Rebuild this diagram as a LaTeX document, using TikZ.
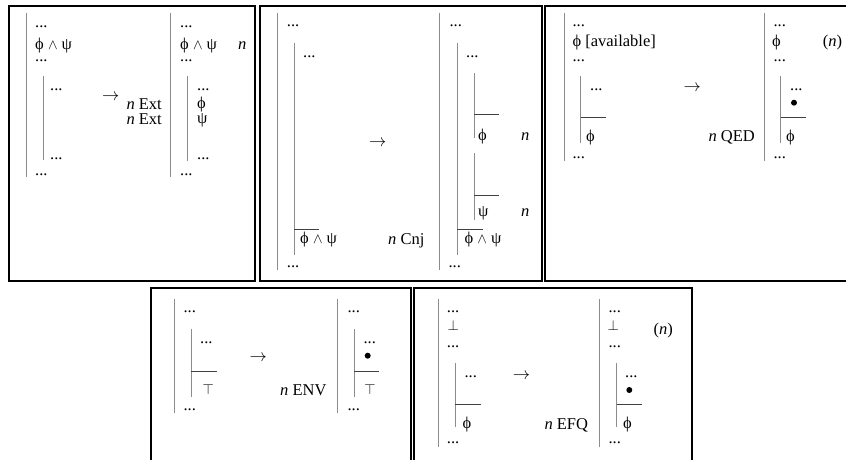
\documentclass[tikz,border=0pt]{standalone}
\usepackage{fontspec}
\setmainfont{Liberation Serif}
\newcommand{\mywedge}{{\fontsize{15}{17}\selectfont$\wedge$}}
\newcommand{\myarr}{$\rightarrow$}
\begin{document}
\begin{tikzpicture}[x=1pt,y=-1pt,
  frame/.style={draw=black,line width=2pt},
  vl/.style={draw=gray!90,line width=1pt},
  hl/.style={draw=black!75,line width=1pt},
  t/.style={anchor=base west,inner sep=0pt,font=\fontsize{16.5}{19}\selectfont},
  te/.style={t,anchor=base east},
  tc/.style={t,anchor=base},
  sym/.style={tc,font=\fontsize{14}{16}\selectfont},
  bulletdot/.style={circle,fill=black,inner sep=0pt,minimum size=6pt}]
\useasboundingbox (0,0) rectangle (846,460);
\clip (0,0) rectangle (846,460);
% frames
\draw[frame] (9,6) rectangle (254.7,281);
\draw[frame] (259.5,6) rectangle (542,281);
\draw[frame] (545,6) rectangle (850,281);
\draw[frame] (151,287.5) rectangle (410.5,465);
\draw[frame] (413.5,287.5) rectangle (692.3,465);
% ---------- panel 1 ----------
\draw[vl] (26.7,12.7) -- (26.7,177);
\draw[vl] (43.3,76) -- (43.3,160);
\node[t] (a1) at (35,27.7) {...};
\node[t] (a2) at (35,49) {ϕ \mywedge{} ψ};
\node[t] (a3) at (35,62) {...};
\node[t] (a4) at (50,91) {...};
\node[t] (a5) at (50,159) {...};
\node[t] (a6) at (35,175) {...};
\node[t] (aarr) at (102,100) {\myarr};
\node[te] (ar1) at (162,109) {\textit{n} Ext};
\node[te] (ar2) at (162,124.3) {\textit{n} Ext};
\draw[vl] (170.7,12.7) -- (170.7,177);
\draw[vl] (187.7,76) -- (187.7,161);
\node[t] (b1) at (180,27.7) {...};
\node[t] (b2) at (180,49) {ϕ \mywedge{} ψ};
\node[t] (bn) at (238,49) {\textit{n}};
\node[t] (b3) at (180,62) {...};
\node[t] (b4) at (197,91) {...};
\node[t] (b5) at (197,108) {ϕ};
\node[t] (b6) at (197,123.3) {ψ};
\node[t] (b7) at (197,159) {...};
\node[t] (b8) at (180,175) {...};
% ---------- panel 2 ----------
\draw[vl] (277.3,13) -- (277.3,270);
\draw[vl] (294.3,43) -- (294.3,255);
\draw[hl] (294.3,229.3) -- (319.3,229.3);
\node[t] (c1) at (286.7,27) {...};
\node[t] (c2) at (303,57.7) {...};
\node[t] (c3) at (300,243.5) {ϕ \mywedge{} ψ};
\node[t] (c4) at (286.7,267.7) {...};
\node[t] (carr) at (369,146.7) {\myarr};
\node[t] (crule) at (388,244) {\textit{n} Cnj};
\draw[vl] (439.3,13) -- (439.3,270);
\draw[vl] (457.3,43) -- (457.3,255);
\draw[vl] (474,73.3) -- (474,138.3);
\draw[hl] (474,114.3) -- (499,114.3);
\draw[vl] (474,153.3) -- (474,220);
\draw[hl] (474,195) -- (499,195);
\draw[hl] (457.3,229.3) -- (482.7,229.3);
\node[t] (d1) at (449.3,27) {...};
\node[t] (d2) at (466,57.7) {...};
\node[t] (d3) at (478,140) {ϕ};
\node[t] (d3n) at (521,140) {\textit{n}};
\node[t] (d4) at (478,216.7) {ψ};
\node[t] (d4n) at (521,216.5) {\textit{n}};
\node[t] (d5) at (464.3,243.5) {ϕ \mywedge{} ψ};
\node[t] (d6) at (448.3,267.7) {...};
% ---------- panel 3 ----------
\draw[vl] (564,12.7) -- (564,160.7);
\draw[vl] (580.7,76) -- (580.7,143.3);
\draw[hl] (580.7,117.7) -- (606,117.7);
\node[t] (e1) at (572.3,27) {...};
\node[t] (e2) at (572.3,46.7) {ϕ [available]};
\node[t] (e3) at (572.3,62) {...};
\node[t] (e4) at (590,91) {...};
\node[t] (e5) at (586,141.3) {ϕ};
\node[t] (e6) at (572.3,158.7) {...};
\node[t] (earr) at (683.3,91.3) {\myarr};
\node[t] (erule) at (708.3,141.7) {\textit{n} QED};
\draw[vl] (764,12.7) -- (764,160.7);
\draw[vl] (780.7,76) -- (780.7,143.3);
\draw[hl] (780.7,117.7) -- (806,117.7);
\node[t] (f1) at (773.3,27) {...};
\node[t] (f2) at (772,46.7) {ϕ};
\node[t] (fn) at (822.7,46.7) {(\textit{n})};
\node[t] (f3) at (773.3,62) {...};
\node[t] (f4) at (790,91) {...};
\node[bulletdot] (f5) at (794,102.7) {};
\node[t] (f6) at (786,141.3) {ϕ};
\node[t] (f7) at (773.3,158.7) {...};
% ---------- panel 4 ----------
\draw[vl] (174.7,299.3) -- (174.7,412.7);
\draw[vl] (191.3,329) -- (191.3,396.7);
\draw[hl] (191.3,371) -- (216.7,371);
\node[t] (g1) at (183.3,312.7) {...};
\node[t] (g2) at (200,343.7) {...};
\node[sym] (g3) at (208.3,394.5) {$\top$};
\node[t] (g4) at (183.3,410.3) {...};
\node[t] (garr) at (249.3,361.7) {\myarr};
\node[t] (grule) at (280,395) {\textit{n} ENV};
\draw[vl] (337.3,299.3) -- (337.3,412.7);
\draw[vl] (354,329) -- (354,396.7);
\draw[hl] (354,371) -- (379.3,371);
\node[t] (h1) at (347.3,312.7) {...};
\node[t] (h2) at (363.3,343.7) {...};
\node[bulletdot] (h3) at (367.7,355.7) {};
\node[sym] (h4) at (370,394.5) {$\top$};
\node[t] (h5) at (347.3,410.3) {...};
% ---------- panel 5 ----------
\draw[vl] (438.3,299.3) -- (438.3,446.7);
\draw[vl] (455,363.3) -- (455,426.7);
\draw[hl] (455,404.3) -- (481,404.3);
\node[t] (i1) at (446.7,312.7) {...};
\node[sym] (i2) at (453.3,330) {$\bot$};
\node[t] (i3) at (446.7,347.7) {...};
\node[t] (i4) at (464.3,377.7) {...};
\node[t] (i5) at (462.5,428) {ϕ};
\node[t] (i6) at (446.7,443.7) {...};
\node[t] (iarr) at (512.7,379) {\myarr};
\node[t] (irule) at (544.3,429) {\textit{n} EFQ};
\draw[vl] (599,299.3) -- (599,446.7);
\draw[vl] (616.7,363.3) -- (616.7,426.7);
\draw[hl] (616.7,404.3) -- (641.7,404.3);
\node[t] (j1) at (608.3,312.7) {...};
\node[sym] (j2) at (613.3,330) {$\bot$};
\node[t] (jn) at (653.3,334) {(\textit{n})};
\node[t] (j3) at (608.3,347.7) {...};
\node[t] (j4) at (625,377.7) {...};
\node[bulletdot] (j5) at (629.3,390) {};
\node[t] (j6) at (623,428) {ϕ};
\node[t] (j7) at (608.3,443.7) {...};
\end{tikzpicture}
\end{document}
